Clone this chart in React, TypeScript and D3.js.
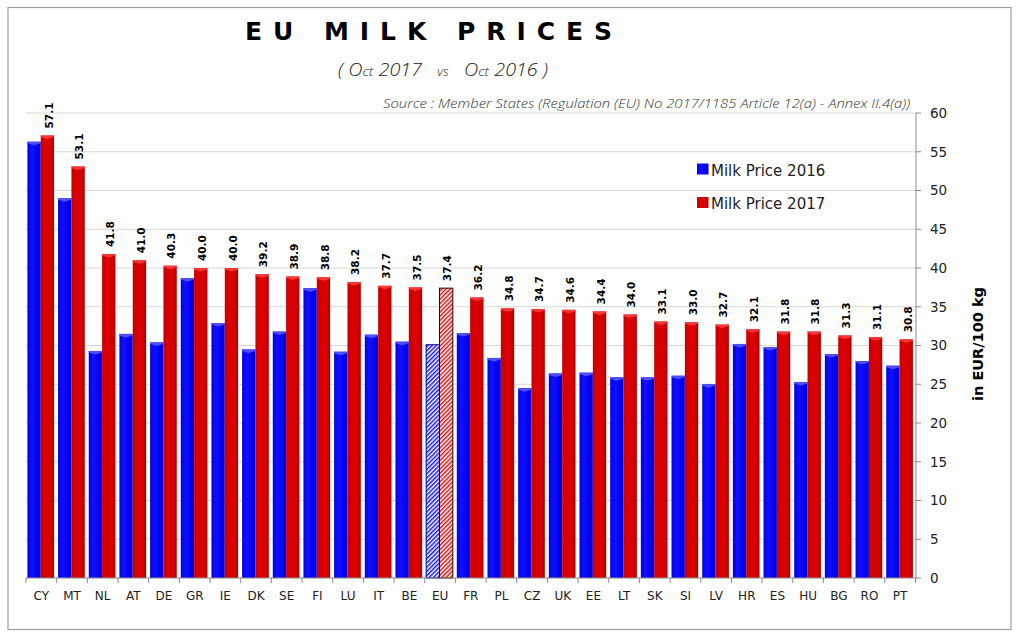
import React from "react";
import * as d3 from "d3";

const categories = ["CY","MT","NL","AT","DE","GR","IE","DK","SE","FI","LU","IT","BE","EU","FR","PL","CZ","UK","EE","LT","SK","SI","LV","HR","ES","HU","BG","RO","PT"];
const price2016 = [56.3,49.0,29.3,31.5,30.4,38.7,32.9,29.5,31.8,37.4,29.2,31.4,30.5,30.1,31.6,28.4,24.5,26.4,26.5,25.9,25.9,26.1,25.0,30.2,29.8,25.3,28.9,28.0,27.4];
const price2017 = [57.1,53.1,41.8,41.0,40.3,40.0,40.0,39.2,38.9,38.8,38.2,37.7,37.5,37.4,36.2,34.8,34.7,34.6,34.4,34.0,33.1,33.0,32.7,32.1,31.8,31.8,31.3,31.1,30.8];
const yTicks = [0,5,10,15,20,25,30,35,40,45,50,55,60];
const seriesNames = ["Milk Price 2016","Milk Price 2017"];
const highlight = "EU";

const FONT = "'DejaVu Sans', Verdana, sans-serif";
const THIN = "'Open Sans', 'Lato', sans-serif";
const PRE = { whiteSpace: "pre" as const };

export default function App() {
  const x = d3.scaleBand<string>().domain(categories).range([26, 915.5]).padding(0);
  const step = x.bandwidth();
  const sub = d3.scaleBand<string>().domain(["2016", "2017"]).range([1.4, step - 2.6]).padding(0);
  const bw = sub.bandwidth();
  const y = d3.scaleLinear().domain([0, 60]).range([578, 113]);
  const y0 = y(0);

  const bar = (cat: string, key: string, v: number, i: number) => {
    const bx = (x(cat) as number) + (sub(key) as number);
    const top = y(v);
    const isBlue = key === "2016";
    const isHi = cat === highlight;
    const fill = isHi ? (isBlue ? "url(#hatchBlue)" : "url(#hatchRed)") : (isBlue ? "url(#gBlue)" : "url(#gRed)");
    return (
      <g key={key + i}>
        <rect x={bx} y={top} width={bw} height={y0 - top} fill={fill}
          stroke={isHi ? (isBlue ? "#000090" : "#300000") : "none"} strokeWidth={isHi ? 1 : 0} />
        {!isHi && (
          <polygon
            points={`${bx},${top} ${bx + bw},${top} ${bx + bw},${top + 1.5} ${bx + bw / 2},${top + 3.5} ${bx},${top + 1.5}`}
            fill={isBlue ? "#5a5aff" : "#ff4040"} opacity={0.85} />
        )}
      </g>
    );
  };

  return (
    <svg width={1024} height={640} style={{ position: "absolute", left: 0, top: 0 }} xmlns="http://www.w3.org/2000/svg">
      <defs>
        <linearGradient id="gBlue" x1="0" x2="1" y1="0" y2="0">
          <stop offset="0%" stopColor="#0000e8" />
          <stop offset="35%" stopColor="#1010ff" />
          <stop offset="80%" stopColor="#0000f0" />
          <stop offset="100%" stopColor="#0000c0" />
        </linearGradient>
        <linearGradient id="gRed" x1="0" x2="1" y1="0" y2="0">
          <stop offset="0%" stopColor="#c80000" />
          <stop offset="35%" stopColor="#dc0000" />
          <stop offset="80%" stopColor="#d40000" />
          <stop offset="100%" stopColor="#a00000" />
        </linearGradient>
        <pattern id="hatchBlue" patternUnits="userSpaceOnUse" width={3} height={3} patternTransform="rotate(45)">
          <rect width={3} height={3} fill="#ffffff" />
          <line x1={0.75} y1={0} x2={0.75} y2={3} stroke="#1a1ae8" strokeWidth={1.6} />
        </pattern>
        <pattern id="hatchRed" patternUnits="userSpaceOnUse" width={3} height={3} patternTransform="rotate(45)">
          <rect width={3} height={3} fill="#ffffff" />
          <line x1={0.75} y1={0} x2={0.75} y2={3} stroke="#d41a1a" strokeWidth={1.6} />
        </pattern>
      </defs>

      <rect x={8} y={7.5} width={1003} height={622} fill="#ffffff" stroke="#a0a0a0" strokeWidth={1.2} />

      {/* Title */}
      <text x={245} y={40} fontFamily={FONT} fontWeight="bold" fontSize={25} fill="#000" style={PRE}
        textLength={367} lengthAdjust="spacing">{"E U   M I L K   P R I C E S"}</text>
      <text x={338} y={76} fontFamily={THIN} fontStyle="italic" fontWeight={300} fontSize={18} fill="#222" style={PRE}
        textLength={210} lengthAdjust="spacingAndGlyphs">
        {"( O"}<tspan fontSize={13}>ct</tspan>{" 2017   "}<tspan fontSize={12}>vs</tspan>{"   O"}<tspan fontSize={13}>ct</tspan>{" 2016 )"}
      </text>
      <text x={383} y={108} fontFamily={THIN} fontStyle="italic" fontWeight={300} fontSize={12} fill="#333"
        textLength={527} lengthAdjust="spacingAndGlyphs">
        Source : Member States (Regulation (EU) No 2017/1185 Article 12(a) - Annex II.4(a))
      </text>

      {/* Gridlines */}
      {yTicks.filter(t => t > 0).map(t => (
        <line key={"g" + t} x1={26} x2={916} y1={y(t)} y2={y(t)} stroke="#d6d6d6" strokeWidth={1} />
      ))}

      {/* Bars */}
      {categories.map((c, i) => (
        <g key={c}>
          {bar(c, "2016", price2016[i], i)}
          {bar(c, "2017", price2017[i], i)}
        </g>
      ))}

      {/* Data labels */}
      {categories.map((c, i) => {
        const cx = (x(c) as number) + (sub("2017") as number) + bw / 2 + 1.5;
        const ty = y(price2017[i]) - 7;
        return (
          <text key={"l" + c} transform={`translate(${cx},${ty}) rotate(-90)`} dy="0.36em"
            fontFamily={FONT} fontWeight="bold" fontSize={10.5} fill="#000">
            {price2017[i].toFixed(1)}
          </text>
        );
      })}

      {/* Bottom axis */}
      <line x1={26} x2={916} y1={y0} y2={y0} stroke="#8a8a8a" strokeWidth={1} />
      {categories.map(c => (
        <line key={"t" + c} x1={x(c) as number} x2={x(c) as number} y1={y0} y2={y0 + 5} stroke="#8a8a8a" />
      ))}
      <line x1={915.5} x2={915.5} y1={y0} y2={y0 + 5} stroke="#8a8a8a" />
      {categories.map(c => (
        <text key={"c" + c} x={(x(c) as number) + step / 2} y={600} textAnchor="middle"
          fontFamily={FONT} fontSize={12} fill="#222">{c}</text>
      ))}

      {/* Right axis */}
      <line x1={916} x2={916} y1={y(60)} y2={y0} stroke="#8a8a8a" strokeWidth={1} />
      {yTicks.map(t => (
        <g key={"y" + t}>
          <line x1={916} x2={921} y1={y(t)} y2={y(t)} stroke="#8a8a8a" />
          <text x={930} y={y(t)} dy="0.36em" fontFamily={FONT} fontSize={13.5} fill="#222">{t}</text>
        </g>
      ))}
      <text transform={`translate(978,344) rotate(-90)`} dy="0.36em" textAnchor="middle"
        fontFamily={FONT} fontWeight="bold" fontSize={14.5} fill="#000">in EUR/100 kg</text>

      {/* Legend */}
      {seriesNames.map((n, i) => (
        <g key={n} transform={`translate(697,${163.5 + i * 33.5})`}>
          <rect x={0} y={0} width={11.5} height={11} fill={i === 0 ? "url(#gBlue)" : "url(#gRed)"} />
          <text x={14} y={12} fontFamily={FONT} fontSize={15} fill="#222">{n}</text>
        </g>
      ))}
    </svg>
  );
}
